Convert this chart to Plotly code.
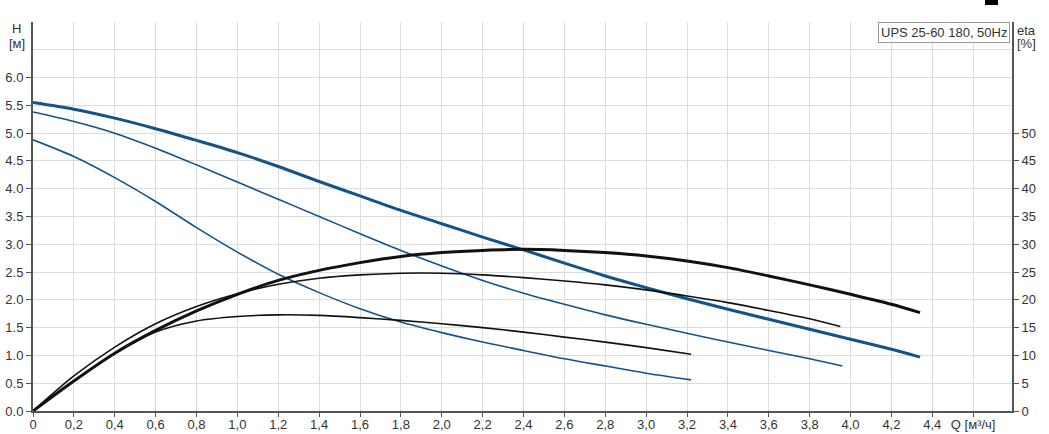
import plotly.graph_objects as go

# ---- data ----
q_h3 = [0, 0.2, 0.4, 0.6, 0.8, 1.0, 1.2, 1.4, 1.6, 1.8, 2.0, 2.2, 2.4, 2.6, 2.8, 3.0, 3.2, 3.4, 3.6, 3.8, 4.0, 4.2, 4.34]
h3 = [5.55, 5.43, 5.27, 5.08, 4.87, 4.65, 4.40, 4.13, 3.87, 3.61, 3.37, 3.13, 2.90, 2.66, 2.43, 2.22, 2.02, 1.83, 1.65, 1.47, 1.29, 1.11, 0.97]

q_h2 = [0, 0.2, 0.4, 0.6, 0.8, 1.0, 1.2, 1.4, 1.6, 1.8, 2.0, 2.2, 2.4, 2.6, 2.8, 3.0, 3.2, 3.4, 3.6, 3.8, 3.96]
h2 = [5.38, 5.21, 5.00, 4.73, 4.43, 4.12, 3.81, 3.50, 3.19, 2.89, 2.61, 2.35, 2.12, 1.92, 1.73, 1.56, 1.40, 1.24, 1.09, 0.94, 0.81]

q_h1 = [0, 0.2, 0.4, 0.6, 0.8, 1.0, 1.2, 1.4, 1.6, 1.8, 2.0, 2.2, 2.4, 2.6, 2.8, 3.0, 3.22]
h1 = [4.88, 4.58, 4.20, 3.77, 3.30, 2.86, 2.46, 2.13, 1.84, 1.60, 1.41, 1.24, 1.09, 0.94, 0.81, 0.68, 0.56]

q_e3 = [0, 0.2, 0.4, 0.6, 0.8, 1.0, 1.2, 1.4, 1.6, 1.8, 2.0, 2.2, 2.4, 2.6, 2.8, 3.0, 3.2, 3.4, 3.6, 3.8, 4.0, 4.2, 4.34]
e3 = [0, 5.4, 10.4, 14.5, 18.0, 21.0, 23.5, 25.3, 26.7, 27.8, 28.5, 28.9, 29.1, 28.9, 28.5, 27.9, 27.0, 25.8, 24.3, 22.7, 21.0, 19.2, 17.7]

q_e2 = [0, 0.2, 0.4, 0.6, 0.8, 1.0, 1.2, 1.4, 1.6, 1.8, 2.0, 2.2, 2.4, 2.6, 2.8, 3.0, 3.2, 3.4, 3.6, 3.8, 3.95]
e2 = [0, 6.3, 11.5, 15.7, 18.8, 21.1, 22.8, 23.9, 24.5, 24.8, 24.8, 24.5, 24.0, 23.4, 22.7, 21.8, 20.7, 19.5, 18.1, 16.6, 15.2]

q_e1 = [0, 0.2, 0.4, 0.6, 0.8, 1.0, 1.2, 1.4, 1.6, 1.8, 2.0, 2.2, 2.4, 2.6, 2.8, 3.0, 3.22]
e1 = [0, 5.4, 10.3, 14.2, 16.2, 17.0, 17.3, 17.2, 16.8, 16.3, 15.7, 15.0, 14.2, 13.3, 12.4, 11.4, 10.2]

x_tickvals = [0, 0.2, 0.4, 0.6, 0.8, 1.0, 1.2, 1.4, 1.6, 1.8, 2.0, 2.2, 2.4, 2.6, 2.8, 3.0, 3.2, 3.4, 3.6, 3.8, 4.0, 4.2, 4.4, 4.6]
x_ticktext = ["0", "0,2", "0,4", "0,6", "0,8", "1,0", "1,2", "1,4", "1,6", "1,8", "2,0", "2,2", "2,4", "2,6", "2,8",
              "3,0", "3,2", "3,4", "3,6", "3,8", "4,0", "4,2", "4,4", "Q [м³/ч]"]
y_tickvals = [0, 0.5, 1.0, 1.5, 2.0, 2.5, 3.0, 3.5, 4.0, 4.5, 5.0, 5.5, 6.0]
y2_tickvals = [0, 5, 10, 15, 20, 25, 30, 35, 40, 45, 50]

BLUE = "#13528b"
BLACK = "#111111"
AX = "#555555"
GRID = "#dcdcdc"
TXT = "#333333"

SM = 0.8
fig = go.Figure()
fig.add_trace(go.Scatter(x=q_h1, y=h1, mode="lines", line=dict(color=BLUE, width=1.6, shape="spline", smoothing=SM), hoverinfo="skip"))
fig.add_trace(go.Scatter(x=q_h2, y=h2, mode="lines", line=dict(color=BLUE, width=1.6, shape="spline", smoothing=SM), hoverinfo="skip"))
fig.add_trace(go.Scatter(x=q_h3, y=h3, mode="lines", line=dict(color=BLUE, width=3, shape="spline", smoothing=SM), hoverinfo="skip"))
fig.add_trace(go.Scatter(x=q_e1, y=e1, mode="lines", yaxis="y2", line=dict(color=BLACK, width=1.6, shape="spline", smoothing=SM), hoverinfo="skip"))
fig.add_trace(go.Scatter(x=q_e2, y=e2, mode="lines", yaxis="y2", line=dict(color=BLACK, width=1.6, shape="spline", smoothing=SM), hoverinfo="skip"))
fig.add_trace(go.Scatter(x=q_e3, y=e3, mode="lines", yaxis="y2", line=dict(color=BLACK, width=3, shape="spline", smoothing=SM), hoverinfo="skip"))

font = dict(family="Liberation Sans, Arial, sans-serif", size=13, color=TXT)

fig.update_layout(
    width=1049, height=434,
    margin=dict(l=33, r=37, t=22, b=23, pad=0, autoexpand=False),
    paper_bgcolor="white", plot_bgcolor="white",
    showlegend=False,
    font=font,
    xaxis=dict(range=[0, 4.79], tickvals=x_tickvals, ticktext=x_ticktext, automargin=False,
               showgrid=False, zeroline=False, showline=True, linecolor=AX, linewidth=2,
               ticks="outside", ticklen=4, tickcolor=AX, tickfont=font, ticklabelstandoff=-4,
               minor=dict(dtick=0.2, tick0=0, showgrid=True, gridcolor=GRID, gridwidth=1, ticks="")),
    yaxis=dict(range=[0, 7.0], tickvals=y_tickvals, tickformat=".1f", automargin=False,
               showgrid=False, zeroline=False, showline=True, linecolor=AX, linewidth=2,
               ticks="outside", ticklen=5, tickcolor=AX, tickfont=font,
               minor=dict(dtick=0.5, tick0=0, showgrid=True, gridcolor=GRID, gridwidth=1, ticks="")),
    yaxis2=dict(range=[0, 70], tickvals=y2_tickvals, overlaying="y", side="right", automargin=False,
                showgrid=False, zeroline=False, showline=True, linecolor=AX, linewidth=2,
                ticks="outside", ticklen=5, tickcolor=AX, tickfont=font),
)

fig.add_annotation(xref="paper", yref="paper", x=-0.0164, y=1.0, yshift=-6, text="H", showarrow=False,
                   font=font, xanchor="center", yanchor="middle")
fig.add_annotation(xref="paper", yref="paper", x=-0.0164, y=1.0, yshift=-21, text="[м]", showarrow=False,
                   font=font, xanchor="center", yanchor="middle")
fig.add_annotation(xref="paper", yref="paper", x=1.0148, y=1.0, yshift=-8, text="eta", showarrow=False,
                   font=font, xanchor="center", yanchor="middle")
fig.add_annotation(xref="paper", yref="paper", x=1.0148, y=1.0, yshift=-21, text="[%]", showarrow=False,
                   font=font, xanchor="center", yanchor="middle")
fig.add_annotation(xref="paper", yref="paper", x=0.998, y=1.0, text="UPS 25-60 180, 50Hz", showarrow=False,
                   font=font, xanchor="right", yanchor="top", bgcolor="white",
                   bordercolor="#999999", borderwidth=1, borderpad=2)
fig.add_shape(type="rect", xref="paper", yref="paper", x0=0.9724, x1=0.9857, y0=1.0437, y1=1.06,
              fillcolor="black", line=dict(width=0))

# remove the default 8px page margin so the figure fills the window exactly
fig.write_html("out.html", config={"displayModeBar": False},
               post_script="document.body.style.margin='0';document.body.style.overflow='hidden';")
